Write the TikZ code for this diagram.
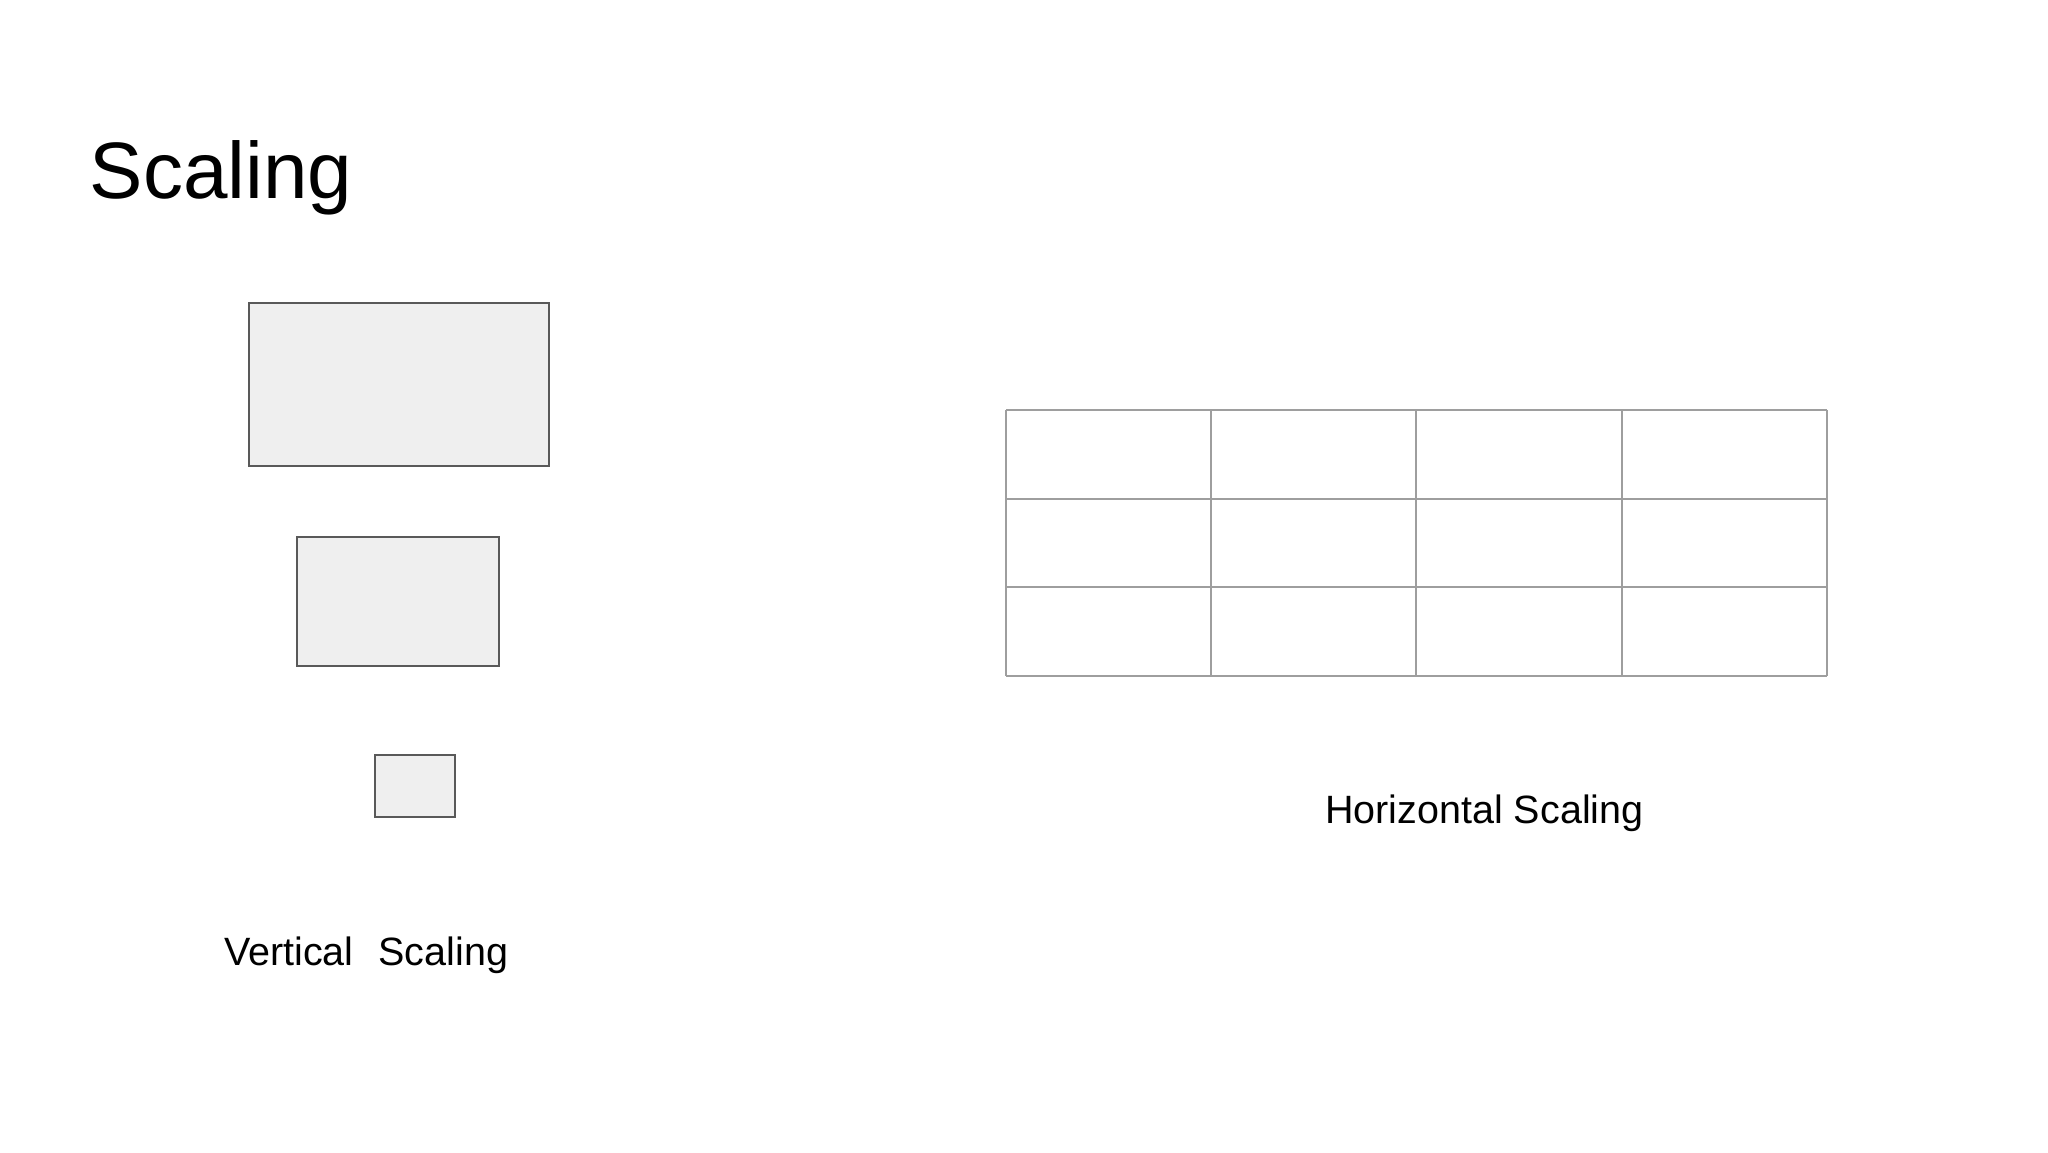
\documentclass[tikz,border=0pt]{standalone}
\usepackage{fontspec}
\setmainfont{Liberation Sans}
\definecolor{boxfill}{HTML}{EFEFEF}
\definecolor{boxline}{HTML}{595959}
\definecolor{gridline}{HTML}{9E9E9E}
\begin{document}
\begin{tikzpicture}[x=1pt,y=-1pt,
  scalebox/.style={draw=boxline,fill=boxfill,line width=2pt},
  gridbox/.style={draw=gridline,line width=2pt},
  lbl/.style={inner sep=0pt,anchor=base west,font=\fontsize{39.5}{47}\selectfont}]
\useasboundingbox (0,0) rectangle (2048,1152);
\fill[white] (0,0) rectangle (2048,1152);
\node[inner sep=0pt,anchor=base west,font=\fontsize{80}{96}\selectfont] (title) at (89.6,198.3) {Scaling};
% vertical scaling boxes
\path[scalebox] (249.3,303.3) rectangle (549,465.7);
\coordinate (b1) at (399,384.5);
\path[scalebox] (296.7,537.3) rectangle (499.3,666);
\coordinate (b2) at (398,601.7);
\path[scalebox] (375.3,755.3) rectangle (455,816.7);
\coordinate (b3) at (415,786);
\node[lbl] (vlabel) at (224,965) {Vertical~\hspace{3pt} Scaling};
% horizontal scaling grid
\foreach \x in {1006,1211.2,1416.4,1621.6,1826.8}
  \draw[gridbox] (\x,410) -- (\x,675.7);
\foreach \y in {410,498.6,587.1,675.7}
  \draw[gridbox] (1006,\y) -- (1826.8,\y);
\node[lbl] (hlabel) at (1325,823.3) {Horizontal Scaling};
\end{tikzpicture}
\end{document}
